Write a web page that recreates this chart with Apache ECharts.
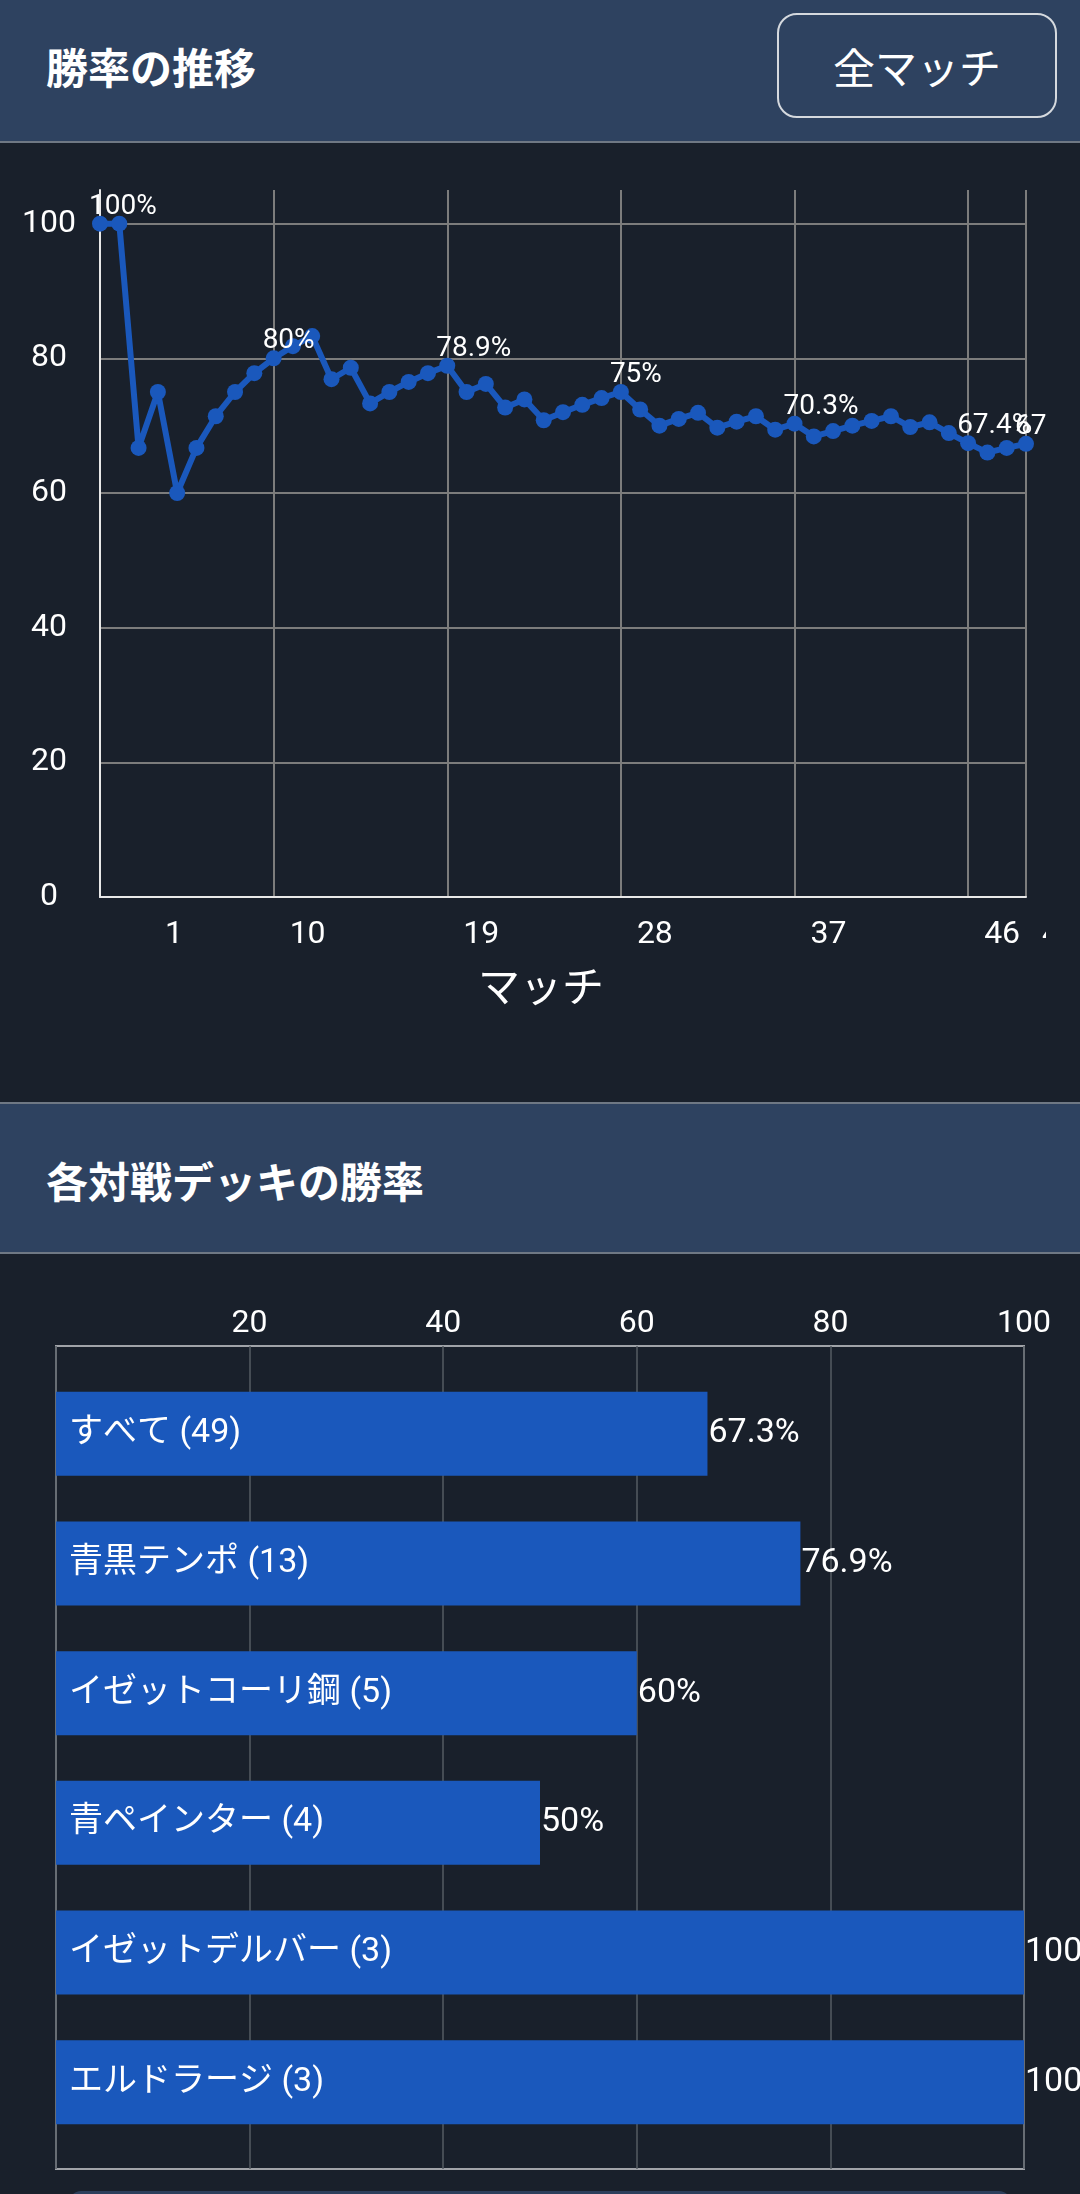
<!DOCTYPE html>
<html lang="ja">

<head>
  <meta charset="UTF-8">
  <meta name="viewport" content="width=device-width, initial-scale=1.0">
  <title>勝率</title>
  <script src="https://cdn.jsdelivr.net/npm/echarts@6/dist/echarts.min.js"></script>
  <style>
    body {
      margin: 0;
      width: 1080px;
      height: 2194px;
      overflow: hidden;
      background: #19202b;
      font-family: Roboto, "Noto Sans CJK JP", sans-serif;
      position: relative;
    }

    .head {
      position: absolute;
      left: 0;
      width: 1080px;
      background: #2e4260;
      box-sizing: border-box;
    }

    .head .title {
      position: absolute;
      left: 46px;
      font: bold 42px/42px "Noto Sans CJK JP", sans-serif;
      color: #fff;
    }

    #h1 {
      top: 0;
      height: 143px;
      border-bottom: 2px solid #6f7884;
    }

    #h2 {
      top: 1102px;
      height: 152px;
      border-top: 2px solid #6f7884;
      border-bottom: 2px solid #6f7884;
    }

    #btn {
      position: absolute;
      left: 777px;
      top: 13px;
      width: 280px;
      height: 105px;
      box-sizing: border-box;
      border: 2px solid #d5d9de;
      border-radius: 20px;
      color: #fff;
      font: 42px/101px "Noto Sans CJK JP", sans-serif;
      text-align: center;
    }

    #line {
      position: absolute;
      left: 0;
      top: 143px;
      width: 1046px;
      height: 959px;
    }

    #bars {
      position: absolute;
      left: 0;
      top: 1254px;
      width: 1080px;
      height: 940px;
    }

    #foot {
      position: absolute;
      left: 69px;
      top: 2191px;
      width: 942px;
      height: 30px;
      border-radius: 12px;
      background: #2c3f5c;
    }
  </style>
</head>

<body>
  <div class="head" id="h1">
    <div class="title" style="top:45px">勝率の推移</div>
    <div id="btn">全マッチ</div>
  </div>
  <div id="line"></div>
  <div class="head" id="h2">
    <div class="title" style="top:55px">各対戦デッキの勝率</div>
  </div>
  <div id="bars"></div>
  <div id="foot"></div>
  <script>
    // 試合ごとの累積勝率
    var matches = ['1', '2', '3', '4', '5', '6', '7', '8', '9', '10',
      '11', '12', '13', '14', '15', '16', '17', '18', '19', '20',
      '21', '22', '23', '24', '25', '26', '27', '28', '29', '30',
      '31', '32', '33', '34', '35', '36', '37', '38', '39', '40',
      '41', '42', '43', '44', '45', '46', '47', '48', '49']
    var winRate = [100, 100, 66.7, 75, 60, 66.7, 71.4, 75, 77.8, 80,
      81.8, 83.3, 76.9, 78.6, 73.3, 75, 76.5, 77.8, 78.9, 75,
      76.2, 72.7, 73.9, 70.8, 72, 73.1, 74.1, 75, 72.4, 70,
      71, 71.9, 69.7, 70.6, 71.4, 69.4, 70.3, 68.4, 69.2, 70,
      70.7, 71.4, 69.8, 70.5, 68.9, 67.4, 66, 66.7, 67.3]
    var tickIdx = [0, 9, 18, 27, 36, 45, 48]

    // 対戦デッキ別
    var decks = ['すべて (49)', '青黒テンポ (13)', 'イゼットコーリ鋼 (5)', '青ペインター (4)', 'イゼットデルバー (3)', 'エルドラージ (3)']
    var deckRate = [67.3, 76.9, 60, 50, 100, 100]

    var font = 'Roboto, "Noto Sans CJK JP", sans-serif'
    var blue = '#1a58bc'

    var lineChart = echarts.init(document.getElementById('line'))
    lineChart.setOption({
      animation: false,
      grid: { left: 100, width: 926, top: 47, height: 707, outerBoundsMode: 'none' },
      xAxis: {
        type: 'category',
        data: matches,
        boundaryGap: false,
        name: 'マッチ',
        nameLocation: 'middle',
        nameGap: 73,
        nameTextStyle: { color: '#fff', fontSize: 42, fontFamily: font, padding: [0, 44, 0, 0] },
        axisLine: { lineStyle: { color: '#e8e8e8', width: 2 } },
        axisTick: { show: false },
        axisLabel: {
          interval: function (i) { return tickIdx.indexOf(i) >= 0 },
          color: '#fff',
          fontSize: 32,
          fontFamily: font,
          margin: 22,
          align: 'left',
          padding: [0, 0, 0, 16],
          formatter: function (v, i) { return i === 0 ? '{f|' + v + '}' : v },
          rich: { f: { fontSize: 32, fontFamily: font, color: '#fff', padding: [0, 0, 0, 49] } }
        },
        splitLine: {
          show: true,
          interval: function (i) { return tickIdx.indexOf(i) >= 0 },
          lineStyle: { color: '#7c7c7c', width: 2 }
        }
      },
      yAxis: {
        type: 'value',
        min: 0,
        max: 105,
        interval: 20,
        axisLine: { show: true, lineStyle: { color: '#e8e8e8', width: 2 } },
        axisTick: { show: false },
        axisLabel: {
          color: '#fff',
          fontSize: 32,
          fontFamily: font,
          align: 'center',
          margin: 51,
          showMaxLabel: false
        },
        splitLine: {
          lineStyle: {
            color: ['#7c7c7c', '#7c7c7c', '#7c7c7c', '#7c7c7c', '#7c7c7c', '#7c7c7c', 'rgba(0,0,0,0)'],
            width: 2
          }
        }
      },
      series: [{
        type: 'line',
        data: winRate.map(function (v, i) {
          return { value: v, label: { show: tickIdx.indexOf(i) >= 0 } }
        }),
        symbol: 'circle',
        symbolSize: 16,
        showSymbol: true,
        showAllSymbol: true,
        color: blue,
        lineStyle: { color: blue, width: 6 },
        label: {
          position: 'top',
          align: 'left',
          distance: 0,
          offset: [-11, 5],
          color: '#fff',
          fontSize: 28,
          fontFamily: font,
          formatter: function (p) { return p.value + '%' }
        }
      }]
    })

    var barChart = echarts.init(document.getElementById('bars'))
    barChart.setOption({
      animation: false,
      grid: [
        { left: 56, width: 968, top: 92, height: 823, show: true, borderColor: '#a0a3a8', borderWidth: 2, outerBoundsMode: 'none' },
        { left: 56, width: 968, top: 115, height: 778, outerBoundsMode: 'none' }
      ],
      xAxis: [{
        gridIndex: 0,
        type: 'value',
        position: 'top',
        min: 0,
        max: 100,
        interval: 20,
        axisLine: { show: false },
        axisTick: { show: false },
        axisLabel: { color: '#fff', fontSize: 32, fontFamily: font, margin: 6, showMinLabel: false },
        splitLine: { lineStyle: { color: '#555b63', width: 1.5 } }
      }, {
        gridIndex: 1,
        type: 'value',
        min: 0,
        max: 100,
        show: false
      }],
      yAxis: [{
        gridIndex: 0,
        type: 'value',
        show: false
      }, {
        gridIndex: 1,
        type: 'category',
        data: decks,
        inverse: true,
        z: 10,
        axisLine: { show: false },
        axisTick: { show: false },
        axisLabel: { inside: true, align: 'left', margin: 13, color: '#fff', fontSize: 34, fontFamily: font }
      }],
      series: [{
        type: 'bar',
        xAxisIndex: 1,
        yAxisIndex: 1,
        data: deckRate,
        barWidth: 84,
        itemStyle: { color: blue },
        label: {
          show: true,
          position: 'right',
          distance: 1,
          color: '#fff',
          fontSize: 34,
          fontFamily: font,
          formatter: function (p) { return p.value + '%' }
        }
      }]
    })
  </script>
</body>

</html>
